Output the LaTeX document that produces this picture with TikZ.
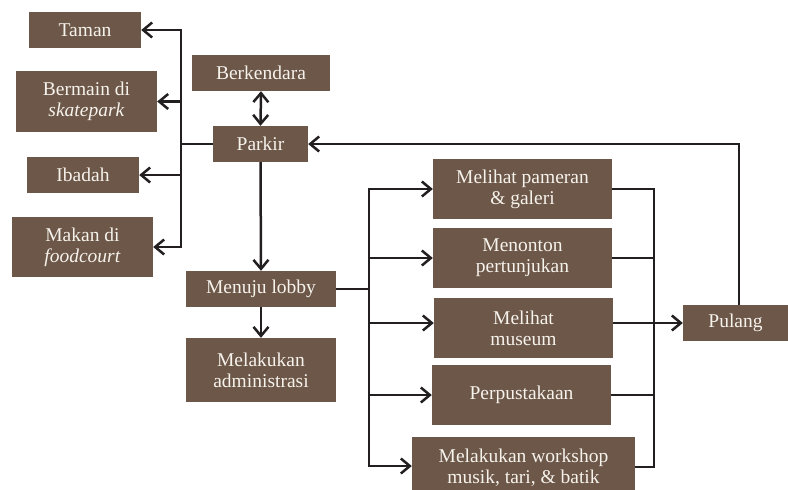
\documentclass[tikz,border=0pt]{standalone}
\usepackage{fontspec}
\setmainfont{Liberation Serif}
\usetikzlibrary{positioning}
\usetikzlibrary{arrows.meta}
\definecolor{boxfill}{RGB}{108,87,72}
\definecolor{boxtext}{RGB}{246,242,236}
\definecolor{linecol}{RGB}{35,31,32}

\begin{document}
\begin{tikzpicture}[x=1pt, y=-1pt,
      box/.style={fill=boxfill, text=boxtext, inner sep=0, align=center,
        font=\fontsize{19.5}{21}\selectfont},
      link/.style={draw=linecol, line width=2.5},
      arr/.style={link, -{Straight Barb[length=9pt, width=15pt, line width=2.5pt]}},
      twoway/.style={link, {Straight Barb[length=9pt, width=15pt, line width=2.5pt]}-{Straight Barb[length=9pt, width=15pt, line width=2.5pt]}}
    ]
    \useasboundingbox (0,0) rectangle (788,490);
    % left side
    \node [box, minimum width=112, minimum height=36] (taman) at (85, 30) {Taman};
    \node [box, minimum width=141, minimum height=61] (bermain) at (86.5, 101.5) {Bermain di\\\textit{skatepark}};
    \node [box, minimum width=112, minimum height=36] (ibadah) at (83, 175) {Ibadah};
    \node [box, minimum width=141, minimum height=60] (makan) at (82.5, 247) {Makan di\\\textit{foodcourt}};
    % middle
    \node [box, minimum width=138, minimum height=36] (berkendara) at (261, 73) {Berkendara};
    \node [box, minimum width=95, minimum height=36] (parkir) at (260.5, 144) {Parkir};
    \node [box, minimum width=150, minimum height=36] (lobby) at (261, 289) {Menuju lobby};
    \node [box, minimum width=150, minimum height=64] (admin) at (261, 370) {Melakukan\\administrasi};
    % right side
    \node [box, minimum width=179, minimum height=60] (pameran) at (522.5, 189) {Melihat pameran\\\& galeri};
    \node [box, minimum width=179, minimum height=60] (menonton) at (522.5, 258) {Menonton\\pertunjukan};
    \node [box, minimum width=179, minimum height=60] (museum) at (523.5, 328) {Melihat\\museum};
    \node [box, minimum width=179, minimum height=60] (perpus) at (521.5, 395) {Perpustakaan};
    \node [box, minimum width=223, minimum height=62] (workshop) at (523.5, 468) {Melakukan workshop\\musik, tari, \& batik};
    \node [box, minimum width=105, minimum height=36] (pulang) at (735.5, 323) {Pulang};

    \coordinate (lbus) at (181, 144);
    \coordinate (rbus) at (369, 289);
    \coordinate (obus) at (654, 323);

    % parkir to the left boxes
    \draw[link] (parkir.west) to (lbus);
    \draw[arr] (lbus) |- (taman.east);
    \draw[arr] (lbus) |- (bermain.east);
    \draw[arr] (lbus) |- (ibadah.east);
    \draw[arr] (lbus) |- (makan.east);

    \draw[twoway] (berkendara.south) to (parkir.north);
    \draw[arr] (parkir.south) to (lobby.north);
    \draw[arr] (lobby.south) to (admin.north);

    % lobby to the activities
    \draw[link] (lobby.east) to (rbus);
    \draw[arr] (rbus) |- (pameran.west);
    \draw[arr] (rbus) |- (menonton.west);
    \draw[arr] (rbus) |- ([yshift=5pt]museum.west);
    \draw[arr] (rbus) |- (perpus.west);
    \draw[arr] (rbus) |- ([yshift=2pt]workshop.west);

    % activities to pulang
    \draw[link] (pameran.east) -| (obus);
    \draw[link] (menonton.east) to (menonton.east -| obus);
    \draw[link] ([yshift=5pt]museum.east) to (obus);
    \draw[link] (perpus.east) to (perpus.east -| obus);
    \draw[link] ([yshift=1pt]workshop.east) -| (obus);
    \draw[arr] (obus) to (pulang.west);
    \draw[arr] ([xshift=3.5pt]pulang.north) |- (parkir.east);
\end{tikzpicture}
\end{document}
